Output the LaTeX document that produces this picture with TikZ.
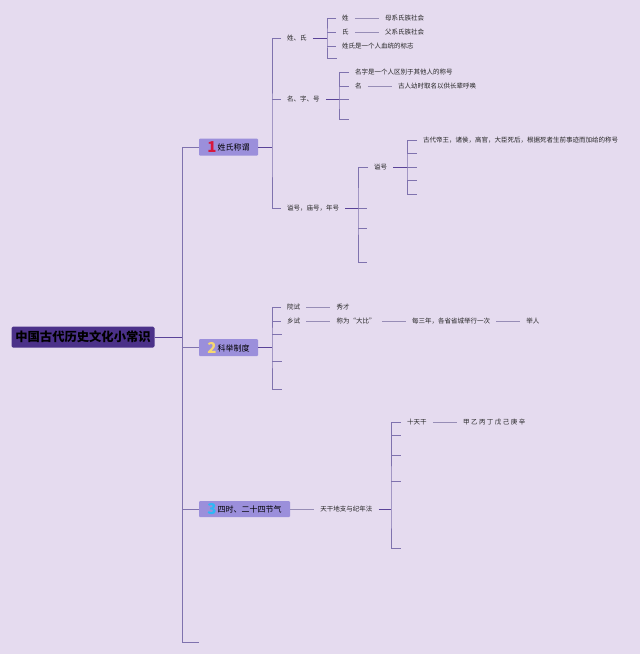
\documentclass[tikz,border=0pt]{standalone}
\usepackage{fontspec}
\setmainfont{Noto Sans CJK SC}
\usepackage{tikz}
\usetikzlibrary{positioning}

\definecolor{bgcol}{HTML}{E5DBEF}
\definecolor{rootcol}{HTML}{4B3189}
\definecolor{boxcol}{HTML}{9B8FDB}
\definecolor{spinecol}{HTML}{7F72AE}
\definecolor{linkcol}{HTML}{5A4398}
\definecolor{chaincol}{HTML}{978DB6}
\definecolor{numred}{HTML}{D8173C}
\definecolor{numyellow}{HTML}{F6D870}
\definecolor{numblue}{HTML}{2EB8F5}

\newcommand{\branchnum}[2]{\raisebox{-1.8pt}{\textcolor{#1}{\fontsize{15}{15}\selectfont\bfseries #2}}\,}

\begin{document}
\begin{tikzpicture}[x=1pt, y=-1pt, node distance=24pt,
    topic/.style={fill=rootcol, rounded corners=1.5pt, minimum width=143pt, minimum height=21pt, inner sep=0pt, font=\fontsize{12.3}{12.3}\selectfont\bfseries, text=black},
    branch/.style={fill=boxcol, rounded corners=1pt, minimum height=17pt, inner xsep=6pt, inner ysep=0pt, font=\fontsize{8}{8}\selectfont, text=black},
    leaf/.style={inner xsep=6pt, inner ysep=1pt, font=\fontsize{6.5}{6.5}\selectfont, text=black!85},
    spine/.style={draw=spinecol, line width=0.7pt},
    link/.style={draw=linkcol, line width=1pt},
    chain/.style={draw=chaincol, line width=0.6pt}]
    \fill[bgcol] (0,0) rectangle (640,654);
    \useasboundingbox (0,0) rectangle (640,654);

    % root and main spine
    \node[topic] (root) at (83,337) {中国古代历史文化小常识};
    \node[branch, minimum width=59pt] (b1) at (228.5,147) {\branchnum{numred}{1}姓氏称谓};
    \node[branch, minimum width=59pt] (b2) at (228.5,347.5) {\branchnum{numyellow}{2}科举制度};
    \node[branch, minimum width=91pt, minimum height=16pt] (b3) at (244.5,509) {\branchnum{numblue}{3}四时、二十四节气};
    \coordinate (sp) at (182,147);
    \coordinate (spend) at (199,642);
    \draw[link] (root.east) -- (sp |- root.east);
    \draw[spine] (b1.west) -- (sp) |- (spend);
    \draw[spine] (sp |- b2.west) -- (b2.west);
    \draw[spine] (sp |- b3.west) -- (b3.west);

    % 1 姓氏称谓
    \node[leaf, anchor=west] (xs) at (281,38) {姓、氏};
    \node[leaf, anchor=west] (mz) at (281,99) {名、字、号};
    \node[leaf, anchor=west] (sh) at (281,208) {谥号，庙号，年号};
    \coordinate (k1) at (272,147);
    \draw[link] (b1.east) -- (k1);
    \draw[spine] (xs.west) -| (k1) |- (sh.west);
    \draw[spine] (k1 |- mz.west) -- (mz.west);

    \node[leaf, anchor=west] (x1) at (336,18) {姓};
    \node[leaf, right=of x1] (x1a) {母系氏族社会};
    \node[leaf, anchor=west] (x2) at (336,32) {氏};
    \node[leaf, right=of x2] (x2a) {父系氏族社会};
    \node[leaf, anchor=west] (x3) at (336,46) {姓氏是一个人血统的标志};
    \coordinate (x4) at (337,58);
    \coordinate (k11) at (327,38);
    \draw[link] (xs.east) -- (k11);
    \draw[spine] (x1.west) -| (k11) |- (x4);
    \draw[spine] (k11 |- x2.west) -- (x2.west);
    \draw[spine] (k11 |- x3.west) -- (x3.west);
    \draw[chain] (x1) -- (x1a);
    \draw[chain] (x2) -- (x2a);

    \node[leaf, anchor=west] (z1) at (349,72) {名字是一个人区别于其他人的称号};
    \node[leaf, anchor=west] (z2) at (349,86) {名};
    \node[leaf, right=of z2] (z2a) {古人幼时取名以供长辈呼唤};
    \coordinate (z3) at (349,99);
    \coordinate (z4) at (349,119);
    \coordinate (k12) at (339,99);
    \draw[link] (mz.east) -- (k12);
    \draw[spine] (z1.west) -| (k12) |- (z4);
    \draw[spine] (k12 |- z2.west) -- (z2.west);
    \draw[spine] (k12) -- (z3);
    \draw[chain] (z2) -- (z2a);

    \node[leaf, anchor=west] (s1) at (368,167) {谥号};
    \coordinate (s2) at (367,208);
    \coordinate (s3) at (367,228);
    \coordinate (s4) at (367,262);
    \coordinate (k13) at (358,208);
    \draw[link] (sh.east) -- (k13);
    \draw[spine] (s1.west) -| (k13) |- (s4);
    \draw[spine] (k13) -- (s2);
    \draw[spine] (k13 |- s3) -- (s3);

    \node[leaf, anchor=west] (g1) at (417,140) {古代帝王，诸侯，高官，大臣死后，根据死者生前事迹而加给的称号};
    \coordinate (k131) at (407,167);
    \draw[link] (s1.east) -- (k131);
    \draw[spine] (g1.west) -| (k131) |- (417,194);
    \foreach \gy in {153,167,180} {
        \draw[spine] (k131 |- 0,\gy) -- (417,\gy);
    }

    % 2 科举制度
    \node[leaf, anchor=west] (y1) at (281,307) {院试};
    \node[leaf, right=of y1] (y1a) {秀才};
    \node[leaf, anchor=west] (y2) at (281,321) {乡试};
    \node[leaf, right=of y2] (y2a) {称为“大比”};
    \node[leaf, right=of y2a] (y2b) {每三年，各省省城举行一次};
    \node[leaf, right=of y2b] (y2c) {举人};
    \coordinate (k2) at (272,347.5);
    \draw[link] (b2.east) -- (k2);
    \draw[spine] (y1.west) -| (k2) |- (282,389);
    \draw[spine] (k2 |- y2.west) -- (y2.west);
    \foreach \yy in {334,361} {
        \draw[spine] (k2 |- 0,\yy) -- (282,\yy);
    }
    \draw[chain] (y1) -- (y1a);
    \draw[chain] (y2) -- (y2a);
    \draw[chain] (y2a) -- (y2b);
    \draw[chain] (y2b) -- (y2c);

    % 3 四时、二十四节气
    \node[leaf, right=of b3] (tg) {天干地支与纪年法};
    \draw[chain] (b3) -- (tg);
    \node[leaf, anchor=west] (t1) at (401,422) {十天干};
    \node[leaf, right=of t1] (t1a) {甲 乙 丙 丁 戊 己 庚 辛};
    \coordinate (k3) at (391,509);
    \draw[link] (tg.east) -- (k3);
    \draw[spine] (t1.west) -| (k3) |- (401,548);
    \foreach \ty in {435,455,481} {
        \draw[spine] (k3 |- 0,\ty) -- (401,\ty);
    }
    \draw[chain] (t1) -- (t1a);
\end{tikzpicture}
\end{document}
